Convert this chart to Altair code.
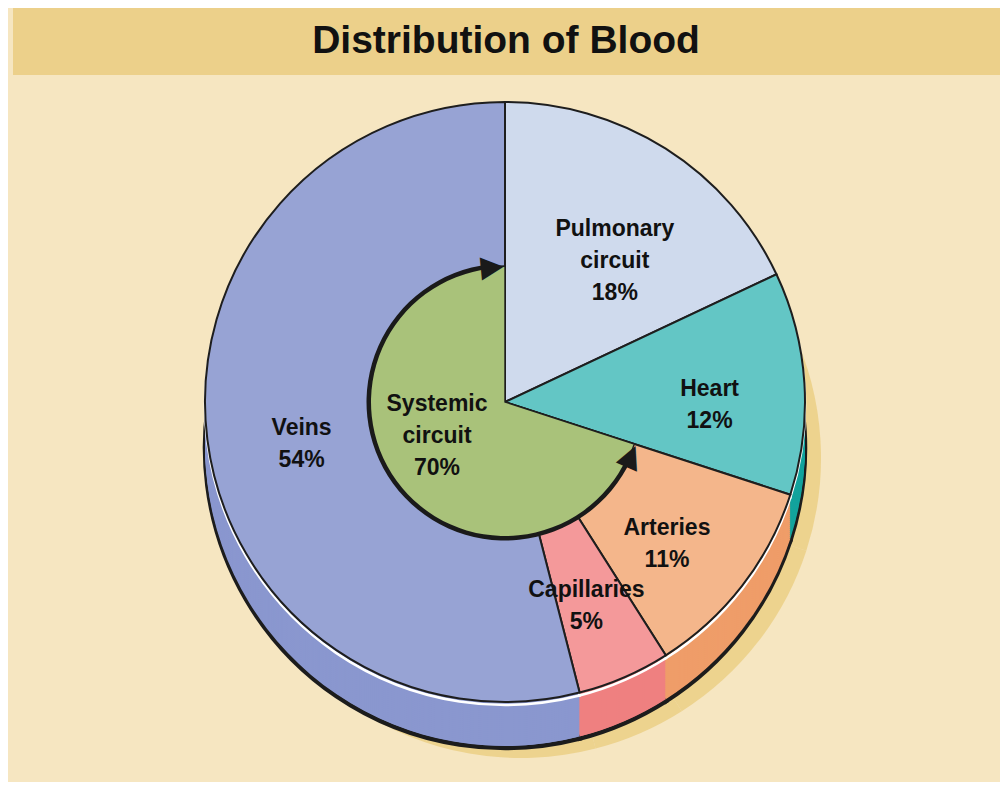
import altair as alt
import pandas as pd

# ---- data ----
categories = ["Pulmonary circuit", "Heart", "Arteries", "Capillaries", "Veins"]
shares = [18, 12, 11, 5, 54]
label_names = ["Pulmonary\ncircuit", "Heart", "Arteries", "Capillaries", "Veins"]
systemic_name = "Systemic\ncircuit"
systemic_share = 70
title_text = "Distribution of Blood"

# ---- styles ----
top_colors = ["#cfdaed", "#63c6c5", "#f4b68b", "#f4999a", "#97a3d4"]
side_colors = ["#b8c4e2", "#14a39d", "#ef9d69", "#ef8080", "#8a97cf"]
green = "#a9c27a"
bg = "#f6e6c1"
band = "#ecd08a"
shadow = "#ebcf85"

W, H = 992, 774
CX, CY = 497, 394
R = 300
DEPTH = 46
R_SYS = 136
FONT = "Liberation Sans"

total = sum(shares)
df = pd.DataFrame({
    "category": categories,
    "value": shares,
    "idx": list(range(len(categories))),
    "label": [f"{n}\n{v}%" for n, v in zip(label_names, shares)],
})

theta_scale = alt.Scale(domain=[0, total])
theta_stack = alt.Theta("value:Q", stack=True, scale=theta_scale)
order = alt.Order("idx:Q")


def pie(colors, dy, radius=R, **mark_kw):
    return alt.Chart(df).mark_arc(radius=radius, **mark_kw).encode(
        theta=theta_stack,
        order=order,
        color=alt.Color("category:N", scale=alt.Scale(domain=categories, range=colors), legend=None),
        x=alt.value(CX),
        y=alt.value(CY + dy),
    )


layers = []

# header band and title
header = alt.Chart(df).mark_rect(color=band).encode(
    x=alt.value(5), x2=alt.value(W), y=alt.value(0), y2=alt.value(67)
)
title = alt.Chart(pd.DataFrame({"t": [title_text]})).mark_text(
    font=FONT, fontSize=39, fontWeight="bold", color="#111111", baseline="middle", align="center"
).encode(text="t:N", x=alt.value(W / 2 + 2), y=alt.value(33))
layers += [header, title]

# soft shadow under the disc
shadow_layer = alt.Chart(df).mark_arc(radius=R, color=shadow, opacity=0.85).encode(
    theta=theta_stack, order=order, x=alt.value(CX + 16), y=alt.value(CY + DEPTH + 10)
)
layers.append(shadow_layer)

# side of the disc (stacked copies, bottom one outlined)
layers.append(pie(side_colors, DEPTH, stroke="#1c1c1c", strokeWidth=4.5))
for d in range(DEPTH - 2, 2, -2):
    layers.append(pie(side_colors, d))
# white rim
layers.append(pie(side_colors, 3, stroke="#ffffff", strokeWidth=2.5))
# top face
layers.append(pie(top_colors, 0, stroke="#1e1e1e", strokeWidth=2))

# systemic circuit wedge
sys_df = pd.DataFrame({"start": [total - systemic_share], "end": [total]})
sys_wedge = alt.Chart(sys_df).mark_arc(radius=R_SYS, color=green, stroke="#1e1e1e", strokeWidth=1.4).encode(
    theta=alt.Theta("start:Q", scale=theta_scale),
    theta2="end:Q",
    x=alt.value(CX),
    y=alt.value(CY),
)
gap = 1.8
ring_df = pd.DataFrame({"start": [total - systemic_share + gap], "end": [total - gap]})
ring = alt.Chart(ring_df).mark_arc(radius=R_SYS + 2.5, radius2=R_SYS - 2, color="#1a1a1a").encode(
    theta=alt.Theta("start:Q", scale=theta_scale),
    theta2="end:Q",
    x=alt.value(CX),
    y=alt.value(CY),
)
head_pos = [total - 1.5, total - systemic_share + 1.5]
head_df = pd.DataFrame({
    "pos": head_pos,
    "ang": [head_pos[0] * 360 / total, (head_pos[1] * 360 / total + 180) % 360],
    "glyph": ["\u25B6", "\u25B6"],
})
heads = alt.Chart(head_df).mark_text(
    radius=R_SYS, fontSize=30, font="DejaVu Sans", color="#1a1a1a", align="center", baseline="middle"
).encode(
    theta=alt.Theta("pos:Q", scale=theta_scale),
    angle=alt.Angle("ang:Q", scale=None),
    text="glyph:N",
    x=alt.value(CX),
    y=alt.value(CY),
)
layers += [sys_wedge, ring, heads]

# labels
labels = alt.Chart(df).mark_text(
    radius=205, font=FONT, fontSize=23, fontWeight="bold", lineHeight=32,
    lineBreak="\n", color="#111111", align="center", baseline="middle"
).encode(
    theta=theta_stack,
    order=order,
    text="label:N",
    x=alt.value(CX),
    y=alt.value(CY),
)
sys_label_df = pd.DataFrame({"pos": [total - systemic_share / 2 + 9.5], "label": [f"{systemic_name}\n{systemic_share}%"]})
sys_label = alt.Chart(sys_label_df).mark_text(
    radius=68, font=FONT, fontSize=23, fontWeight="bold", lineHeight=32,
    lineBreak="\n", color="#111111", align="center", baseline="middle"
).encode(
    theta=alt.Theta("pos:Q", scale=theta_scale),
    text="label:N",
    x=alt.value(CX),
    y=alt.value(CY),
)
layers += [labels, sys_label]

chart = alt.layer(*layers).resolve_scale(color="independent").properties(
    width=W, height=H, background=bg, padding=0, autosize=alt.AutoSizeParams(type="none")
).configure_view(strokeWidth=0)

chart.save("out.html", embed_options={"renderer": "svg", "actions": False})
